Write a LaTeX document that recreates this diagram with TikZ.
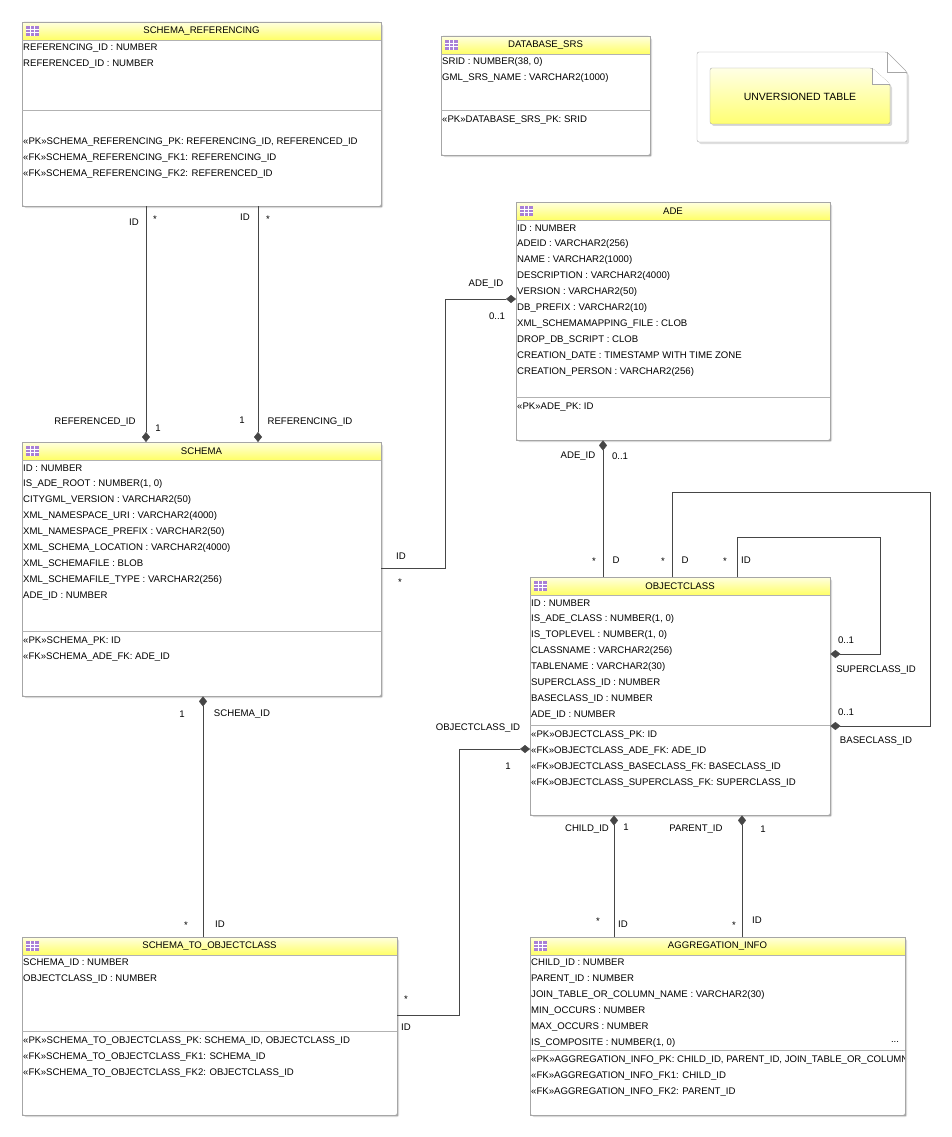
\documentclass[tikz,border=0pt]{standalone}
\usepackage{fontspec}
\setmainfont{Liberation Sans}
\usetikzlibrary{arrows.meta}

\newcommand{\erfont}{\fontsize{9.6}{11}\selectfont}

\tikzset{
  tbl/.style={draw=gray!70, fill=white, rounded corners=2pt, inner sep=0pt, anchor=north west},
  fld/.style={anchor=west, inner sep=1pt, font=\erfont},
  lbl/.style={inner sep=1pt, font=\erfont},
  rel/.style={draw=gray!55!black, -{Diamond[length=10pt,width=8pt,fill=gray!55!black]}},
}

% name, x, y, width, height, title, fields, separator offset
\newcommand{\ertable}[8]{%
  \fill[gray!30, rounded corners=2pt] (#2+2,#3+2) rectangle ++(#4,#5);
  \node[tbl, minimum width=#4pt, minimum height=#5pt] (#1) at (#2,#3) {};
  \begin{scope}
    \clip[rounded corners=2pt] (#2,#3) rectangle ++(#4,#5);
    \shade[top color=yellow!12, bottom color=yellow!60] (#2,#3) rectangle ++(#4,18);
    \foreach \t [count=\i] in {#7}
      \node[fld] at (#2,#3+10+16*\i) {\t};
  \end{scope}
  \draw[gray!70] (#2,#3) rectangle ++(#4,#5);
  \draw[gray!60] (#2,#3+18) -- ++(#4,0);
  \draw[gray!60] (#2,#3+#8) -- ++(#4,0);
  \fill[blue!35!violet!50] (#2+4,#3+4) rectangle ++(13,10);
  \draw[white, line width=0.4pt] (#2+4,#3+7) -- ++(13,0) (#2+4,#3+10) -- ++(13,0)
    (#2+8,#3+4) -- ++(0,10) (#2+12,#3+4) -- ++(0,10);
  \node[lbl] at (#2+#4/2,#3+9) {#6};
}
% x, separator y, width, keys
\newcommand{\erkeys}[4]{%
  \begin{scope}
    \clip (#1,#2) rectangle ++(#3-1,80);
    \foreach \t [count=\i] in {#4}
      \node[fld] at (#1,#2-6+16*\i) {\t};
  \end{scope}
}

\begin{document}
\catcode`\_=12
\begin{tikzpicture}[x=1pt, y=-1pt]
\useasboundingbox (0,0) rectangle (951,1137);

\ertable{sr}{22}{22}{359}{184}{SCHEMA_REFERENCING}
  {{REFERENCING_ID : NUMBER}, {REFERENCED_ID : NUMBER}}{88}
\erkeys{22}{132}{359}{{«PK»SCHEMA_REFERENCING_PK: REFERENCING_ID, REFERENCED_ID},
  {«FK»SCHEMA_REFERENCING_FK1: REFERENCING_ID}, {«FK»SCHEMA_REFERENCING_FK2: REFERENCED_ID}}

\ertable{srs}{441}{36}{209}{119}{DATABASE_SRS}
  {{SRID : NUMBER(38, 0)}, {GML_SRS_NAME : VARCHAR2(1000)}}{74}
\erkeys{441}{110}{209}{{«PK»DATABASE_SRS_PK: SRID}}

% legend note
\fill[gray!25, rounded corners=2pt] (699,54) -- (889,54) -- (909,74) -- (909,144) -- (699,144) -- cycle;
\draw[gray!70, fill=white, rounded corners=2pt] (697,52) -- (887,52) -- (907,72) -- (907,142) -- (697,142) -- cycle;
\draw[gray!70] (887,52) -- (887,72) -- (907,72);
\fill[gray!30, rounded corners=2pt] (712,70) -- (874,70) -- (892,86) -- (892,126) -- (712,126) -- cycle;
\shade[draw=gray!70, top color=yellow!10, bottom color=yellow!55, rounded corners=2pt]
  (710,68) -- (872,68) -- (890,84) -- (890,124) -- (710,124) -- cycle;
\draw[gray!70, fill=white] (872,68) -- (872,84) -- (890,84);
\node[lbl, font=\fontsize{10.5}{12}\selectfont] (unv) at (800,97) {UNVERSIONED TABLE};

\ertable{ade}{516}{202}{314}{238}{ADE}
  {{ID : NUMBER}, {ADEID : VARCHAR2(256)}, {NAME : VARCHAR2(1000)}, {DESCRIPTION : VARCHAR2(4000)},
   {VERSION : VARCHAR2(50)}, {DB_PREFIX : VARCHAR2(10)}, {XML_SCHEMAMAPPING_FILE : CLOB},
   {DROP_DB_SCRIPT : CLOB}, {CREATION_DATE : TIMESTAMP WITH TIME ZONE}, {CREATION_PERSON : VARCHAR2(256)}}{195}
\erkeys{516}{397}{314}{{«PK»ADE_PK: ID}}

\ertable{schema}{22}{442}{359}{254}{SCHEMA}
  {{ID : NUMBER}, {IS_ADE_ROOT : NUMBER(1, 0)}, {CITYGML_VERSION : VARCHAR2(50)},
   {XML_NAMESPACE_URI : VARCHAR2(4000)}, {XML_NAMESPACE_PREFIX : VARCHAR2(50)},
   {XML_SCHEMA_LOCATION : VARCHAR2(4000)}, {XML_SCHEMAFILE : BLOB},
   {XML_SCHEMAFILE_TYPE : VARCHAR2(256)}, {ADE_ID : NUMBER}}{189}
\erkeys{22}{631}{359}{{«PK»SCHEMA_PK: ID}, {«FK»SCHEMA_ADE_FK: ADE_ID}}

\ertable{oc}{530}{577}{300}{238}{OBJECTCLASS}
  {{ID : NUMBER}, {IS_ADE_CLASS : NUMBER(1, 0)}, {IS_TOPLEVEL : NUMBER(1, 0)},
   {CLASSNAME : VARCHAR2(256)}, {TABLENAME : VARCHAR2(30)}, {SUPERCLASS_ID : NUMBER},
   {BASECLASS_ID : NUMBER}, {ADE_ID : NUMBER}}{148}
\erkeys{530}{725}{300}{{«PK»OBJECTCLASS_PK: ID}, {«FK»OBJECTCLASS_ADE_FK: ADE_ID},
  {«FK»OBJECTCLASS_BASECLASS_FK: BASECLASS_ID}, {«FK»OBJECTCLASS_SUPERCLASS_FK: SUPERCLASS_ID}}

\ertable{sto}{22}{937}{375}{178}{SCHEMA_TO_OBJECTCLASS}
  {{SCHEMA_ID : NUMBER}, {OBJECTCLASS_ID : NUMBER}}{94}
\erkeys{22}{1031}{375}{{«PK»SCHEMA_TO_OBJECTCLASS_PK: SCHEMA_ID, OBJECTCLASS_ID},
  {«FK»SCHEMA_TO_OBJECTCLASS_FK1: SCHEMA_ID}, {«FK»SCHEMA_TO_OBJECTCLASS_FK2: OBJECTCLASS_ID}}

\ertable{ai}{530}{937}{375}{178}{AGGREGATION_INFO}
  {{CHILD_ID : NUMBER}, {PARENT_ID : NUMBER}, {JOIN_TABLE_OR_COLUMN_NAME : VARCHAR2(30)},
   {MIN_OCCURS : NUMBER}, {MAX_OCCURS : NUMBER}, {IS_COMPOSITE : NUMBER(1, 0)}}{113}
\node[lbl] at (895,1042) {...};
\erkeys{530}{1050}{375}{{«PK»AGGREGATION_INFO_PK: CHILD_ID, PARENT_ID, JOIN_TABLE_OR_COLUMN_NAME},
  {«FK»AGGREGATION_INFO_FK1: CHILD_ID}, {«FK»AGGREGATION_INFO_FK2: PARENT_ID}}

% relations
\draw[rel] ([xshift=124pt]sr.south west) -- ([xshift=124pt]schema.north west);
\draw[rel] ([xshift=236pt]sr.south west) -- ([xshift=236pt]schema.north west);
\draw[rel] ([yshift=-126pt]schema.north east) -- ++(64,0) |- ([yshift=-97pt]ade.north west);
\draw[rel] ([xshift=73pt]oc.north west) -- ([xshift=87pt]ade.south west);
\draw[rel] ([xshift=142pt]oc.north west) -- ++(0,-85) -- ++(258,0) |- ([yshift=-149pt]oc.north east);
\draw[rel] ([xshift=207pt]oc.north west) -- ++(0,-40) -- ++(143,0) |- ([yshift=-77pt]oc.north east);
\draw[rel] ([xshift=181pt]sto.north west) -- ([xshift=181pt]schema.south west);
\draw[rel] ([yshift=-78pt]sto.north east) -- ++(62,0) |- ([yshift=-172pt]oc.north west);
\draw[rel] ([xshift=84pt]ai.north west) -- ([xshift=84pt]oc.south west);
\draw[rel] ([xshift=212pt]ai.north west) -- ([xshift=212pt]oc.south west);

% relation labels
\node[lbl] at (134,222) {ID};  \node[lbl] at (155,219) {*};
\node[lbl] at (95,422) {REFERENCED_ID}; \node[lbl] at (158,428) {1};
\node[lbl] at (245,217) {ID};  \node[lbl] at (268,219) {*};
\node[lbl] at (242,420) {1};   \node[lbl] at (310,422) {REFERENCING_ID};
\node[lbl] at (401,556) {ID};  \node[lbl] at (400,582) {*};
\node[lbl] at (486,284) {ADE_ID}; \node[lbl] at (497,316) {0..1};
\node[lbl] at (578,456) {ADE_ID}; \node[lbl] at (620,456) {0..1};
\node[lbl] at (594,561) {*};   \node[lbl] at (616,560) {D};
\node[lbl] at (663,561) {*};   \node[lbl] at (685,560) {D};
\node[lbl] at (725,561) {*};   \node[lbl] at (746,560) {ID};
\node[lbl] at (846,640) {0..1}; \node[lbl] at (876,670) {SUPERCLASS_ID};
\node[lbl] at (846,712) {0..1}; \node[lbl] at (876,741) {BASECLASS_ID};
\node[lbl] at (182,714) {1};   \node[lbl] at (242,714) {SCHEMA_ID};
\node[lbl] at (186,925) {*};   \node[lbl] at (220,924) {ID};
\node[lbl] at (406,999) {*};   \node[lbl] at (406,1027) {ID};
\node[lbl] at (478,728) {OBJECTCLASS_ID}; \node[lbl] at (508,766) {1};
\node[lbl] at (587,829) {CHILD_ID}; \node[lbl] at (626,827) {1};
\node[lbl] at (598,921) {*};   \node[lbl] at (623,924) {ID};
\node[lbl] at (696,829) {PARENT_ID}; \node[lbl] at (763,829) {1};
\node[lbl] at (734,925) {*};   \node[lbl] at (757,920) {ID};
\end{tikzpicture}
\end{document}
